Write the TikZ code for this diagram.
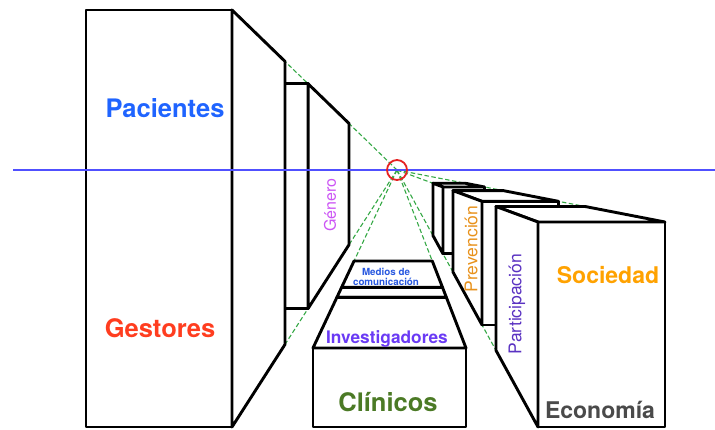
\documentclass[tikz,border=0pt]{standalone}
\usepackage{fontspec}
\setmainfont{TeX Gyre Heros}
\usepackage{tikz}
\usetikzlibrary{calc}
\definecolor{pacblue}{HTML}{1F64FF}
\definecolor{gesred}{HTML}{FF3D1F}
\definecolor{genviolet}{HTML}{CC55F5}
\definecolor{medblue}{HTML}{2858E0}
\definecolor{invviolet}{HTML}{6A3AF5}
\definecolor{clingreen}{HTML}{4B7A25}
\definecolor{prevorange}{HTML}{E8921C}
\definecolor{partviolet}{HTML}{5A32C2}
\definecolor{socorange}{HTML}{FFA200}
\definecolor{ecogray}{HTML}{4A4A4A}
\definecolor{guidegreen}{HTML}{35A845}
\definecolor{hzblue}{HTML}{5050FF}
\definecolor{ringred}{HTML}{E52222}

\begin{document}
\begin{tikzpicture}[x=1pt,y=-1pt,
    face/.style={draw=black,fill=white,line width=2.9pt,line join=round},
    pguide/.style={draw=guidegreen,line width=1.1pt,dash pattern=on 4.5pt off 2.5pt},
    bigtxt/.style={font=\bfseries\fontsize{25.5}{28}\selectfont},
    sidetxt/.style={rotate=90,font=\fontsize{17.5}{20}\selectfont}]
    \useasboundingbox (0,0) rectangle (715,430);
    \coordinate (vp) at (397,170); % vanishing point
    \coordinate (hzl) at (13,170);
    \coordinate (hzr) at (715,170);
    % front corners of the nearest blocks
    \coordinate (ltl) at (86,10);
    \coordinate (ltr) at (232,10);
    \coordinate (lbr) at (232,427);
    \coordinate (mtl) at (313,348);
    \coordinate (mtr) at (466,348);
    \coordinate (mbr) at (466,427);
    \coordinate (rtl) at (538,222);
    \coordinate (rtr) at (665,222);
    \coordinate (rbl) at (538,427);
    \coordinate (rbr) at (665,427);

    %%%% guides
    \foreach \p in {ltr,lbr,mtl,mtr,rtl,rtr,rbl}
      \draw [pguide] (vp) -- (\p);

    %%%% blocks, back to front
    % right row
    \foreach \f/\b in {0.326/0.255,0.603/0.397,1/0.702} {
      \draw [face] ($(vp)!\f!(rtl)$) -- ($(vp)!\f!(rtr)$) -- ($(vp)!\f!(rbr)$) -- ($(vp)!\f!(rbl)$) -- cycle;
      \draw [face] ($(vp)!\b!(rtl)$) -- ($(vp)!\b!(rtr)$) -- ($(vp)!\f!(rtr)$) -- ($(vp)!\f!(rtl)$) -- cycle;
      \draw [face] ($(vp)!\b!(rtl)$) -- ($(vp)!\f!(rtl)$) -- ($(vp)!\f!(rbl)$) -- ($(vp)!\b!(rbl)$) -- cycle;
    }
    % left row
    \foreach \f/\b in {0.539/0.291,1/0.679} {
      \draw [face] ($(vp)!\f!(ltl)$) rectangle ($(vp)!\f!(lbr)$);
      \draw [face] ($(vp)!\f!(ltr)$) -- ($(vp)!\b!(ltr)$) -- ($(vp)!\b!(lbr)$) -- ($(vp)!\f!(lbr)$) -- cycle;
    }
    % middle row
    \draw [face] ($(vp)!0.716!(mtl)$) -- ($(vp)!0.716!(mtr)$) -- ($(vp)!0.659!(mtr)$) -- ($(vp)!0.659!(mtl)$) -- cycle;
    \draw [face] ($(vp)!0.659!(mtl)$) -- ($(vp)!0.659!(mtr)$) -- ($(vp)!0.511!(mtr)$) -- ($(vp)!0.511!(mtl)$) -- cycle;
    \draw [face] (mtl) rectangle (mbr);
    \draw [face] (mtl) -- (mtr) -- ($(vp)!0.716!(mtr)$) -- ($(vp)!0.716!(mtl)$) -- cycle;

    %%%% labels
    \node (pac) at (165,108) [bigtxt,text=pacblue] {Pacientes};
    \node (ges) at (160,328) [bigtxt,text=gesred] {Gestores};
    \node (gen) at (330,205) [sidetxt,text=genviolet,font=\fontsize{16}{18}\selectfont] {Género};
    \node (med) at (386,277) [text=medblue,align=center,font=\bfseries\fontsize{9.8}{9.5}\selectfont] {Medios de\\comunicación};
    \node (inv) at (387,339) [text=invviolet,font=\bfseries\fontsize{17.3}{20}\selectfont] {Investigadores};
    \node (cli) at (388,402) [bigtxt,text=clingreen] {Clínicos};
    \node (prev) at (471,249) [sidetxt,text=prevorange] {Prevención};
    \node (part) at (517,304) [sidetxt,text=partviolet] {Participación};
    \node (soc) at (608,275) [text=socorange,font=\bfseries\fontsize{23}{26}\selectfont] {Sociedad};
    \node (eco) at (600,410) [text=ecogray,font=\bfseries\fontsize{23}{26}\selectfont] {Economía};

    %%%% horizon and vanishing point
    \draw [hzblue,line width=1.1pt] (hzl) -- (hzr);
    \node (vpring) at (vp) [circle,draw=ringred,line width=1.8pt,minimum size=20pt,inner sep=0pt] {};
\end{tikzpicture}
\end{document}
